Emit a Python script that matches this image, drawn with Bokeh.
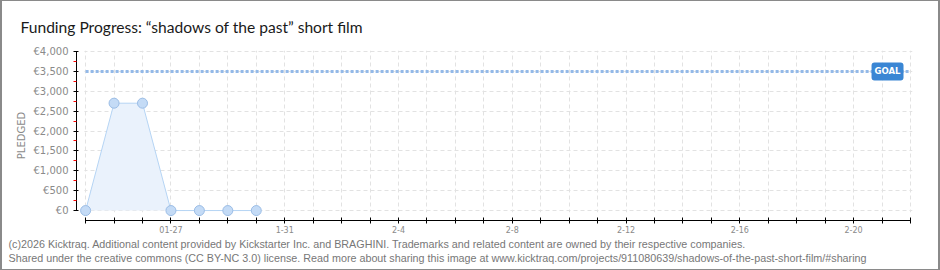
import pandas as pd
from bokeh.plotting import figure
from bokeh.models import Range1d, FixedTicker, Label, BoxAnnotation, ColumnDataSource, Title
from bokeh.embed import file_html
from bokeh.resources import INLINE

# ---------------- data ----------------
title_text = "Funding Progress: \u201cshadows of the past\u201d short film"
dates = ["2026-01-24", "2026-01-25", "2026-01-26", "2026-01-27",
         "2026-01-28", "2026-01-29", "2026-01-30"]
pledged = [0, 2700, 2700, 0, 0, 0, 0]
goal = 3500
axis_start = "2026-01-24"
axis_end = "2026-02-22"
x_label_dates = ["2026-01-27", "2026-01-31", "2026-02-04", "2026-02-08",
                 "2026-02-12", "2026-02-16", "2026-02-20"]
x_label_texts = ["01-27", "1-31", "2-4", "2-8", "2-12", "2-16", "2-20"]
y_tick_values = [0, 500, 1000, 1500, 2000, 2500, 3000, 3500, 4000]
y_tick_labels = ["\u20ac0", "\u20ac500", "\u20ac1,000", "\u20ac1,500", "\u20ac2,000",
                 "\u20ac2,500", "\u20ac3,000", "\u20ac3,500", "\u20ac4,000"]
y_axis_title = "PLEDGED"
goal_text = "GOAL"
footer_lines = [
    "(c)2026 Kicktraq. Additional content provided by Kickstarter Inc. and BRAGHINI. "
    "Trademarks and related content are owned by their respective companies.",
    "Shared under the creative commons (CC BY-NC 3.0) license. Read more about sharing this image "
    "at www.kicktraq.com/projects/911080639/shadows-of-the-past-short-film/#sharing",
]

# ---------------- helpers ----------------
t0 = pd.Timestamp(axis_start)


def day(d):
    return (pd.Timestamp(d) - t0).days


xs = [day(d) for d in dates]
x_end = day(axis_end)
src = ColumnDataSource(dict(x=xs, y=pledged, base=[0] * len(xs)))

W, H = 940, 270
LEFT, RIGHT, TOP, BOTTOM = 76, 28, 49, 50

p = figure(width=W, height=H, output_backend="svg", toolbar_location=None,
           x_range=Range1d(-0.32, x_end + 0.07), y_range=Range1d(-250, 4025),
           min_border_left=LEFT, min_border_right=RIGHT,
           min_border_top=TOP, min_border_bottom=BOTTOM)
p.outline_line_color = None
p.background_fill_color = "white"
p.border_fill_color = None
p.styles = {"background-color": "white",
            "box-shadow": "inset 2px 1px 0 0 #8a8a8a, inset -2px -1px 0 0 #8a8a8a"}

# title
p.title.text = title_text
p.title.align = "left"
p.title.offset = 20 - LEFT
p.title.standoff = 30
p.title.text_font = "Lato"
p.title.text_font_size = "15.6px"
p.title.text_font_style = "normal"
p.title.text_color = "#1a1a1a"

# grids
p.xgrid.ticker = FixedTicker(ticks=list(range(0, x_end + 1)))
p.ygrid.ticker = FixedTicker(ticks=y_tick_values)
for g in (p.xgrid, p.ygrid):
    g.grid_line_color = "#e2e2e2"
    g.grid_line_dash = "4 3"
    g.grid_line_width = 1

# mask grid outside the data zone
p.add_layout(BoxAnnotation(top=-40, fill_color="white", fill_alpha=1.0,
                           line_color=None, level="underlay"))
p.add_layout(BoxAnnotation(right=-0.04, fill_color="white", fill_alpha=1.0,
                           line_color=None, level="underlay"))

# x axis
xa = p.xaxis[0]
xa.ticker = FixedTicker(ticks=list(range(0, x_end + 1)))
overrides = {i: "" for i in range(0, x_end + 1)}
for d, t in zip(x_label_dates, x_label_texts):
    overrides[day(d)] = t
xa.major_label_overrides = overrides
xa.bounds = (0, x_end)
xa.axis_line_color = "black"
xa.major_tick_line_color = "black"
xa.major_tick_in = 3
xa.major_tick_out = 3
xa.minor_tick_line_color = None
xa.major_label_standoff = 2
xa.major_label_text_font = "DejaVu Sans"
xa.major_label_text_font_size = "8px"
xa.major_label_text_color = "#8a8a8a"

# y axis
ya = p.yaxis[0]
mids = [(a + b) / 2 for a, b in zip(y_tick_values[:-1], y_tick_values[1:])]
ya.ticker = FixedTicker(ticks=y_tick_values, minor_ticks=mids)
ya.major_label_overrides = dict(zip(y_tick_values, y_tick_labels))
ya.bounds = (y_tick_values[0], y_tick_values[-1])
ya.axis_line_color = "black"
ya.major_tick_line_color = "black"
ya.major_tick_in = 2
ya.major_tick_out = 3
ya.minor_tick_line_color = "red"
ya.minor_tick_in = 0
ya.minor_tick_out = 3
ya.major_label_standoff = 5
ya.major_label_text_font = "DejaVu Sans"
ya.major_label_text_font_size = "10px"
ya.major_label_text_color = "#8a8a8a"
ya.axis_label = y_axis_title
ya.axis_label_standoff = 4
ya.axis_label_text_font = "DejaVu Sans"
ya.axis_label_text_font_size = "10px"
ya.axis_label_text_font_style = "normal"
ya.axis_label_text_color = "#8a8a8a"

# goal line
p.segment(x0=0, x1=x_end, y0=goal, y1=goal, line_color="#93b9e8",
          line_width=3, line_dash="3 2")

# series
p.varea(x="x", y1="base", y2="y", source=src, fill_color="#eaf2fc", fill_alpha=1.0)
p.line(x="x", y="y", source=src, line_color="#b5d4f4", line_width=1)
p.scatter(x="x", y="y", source=src, size=10, fill_color="#c4dbf6",
          line_color="#9bbde6", line_width=1)

# goal label
p.add_layout(Label(x=x_end, y=goal, text=goal_text, text_align="right",
                   text_baseline="middle", x_offset=-7,
                   text_font="DejaVu Sans", text_font_size="8.5px",
                   text_font_style="bold", text_color="white",
                   background_fill_color="#3a86d4", background_fill_alpha=1.0,
                   border_radius=3, padding=[3, 4]))

# footer
for line in footer_lines:
    p.add_layout(Title(text=line, align="left", offset=8 - LEFT, standoff=0,
                       text_font="Liberation Sans", text_font_size="10.75px",
                       text_font_style="normal", text_color="#777777"), "below")

open("out.html", "w").write(file_html(p, INLINE))
